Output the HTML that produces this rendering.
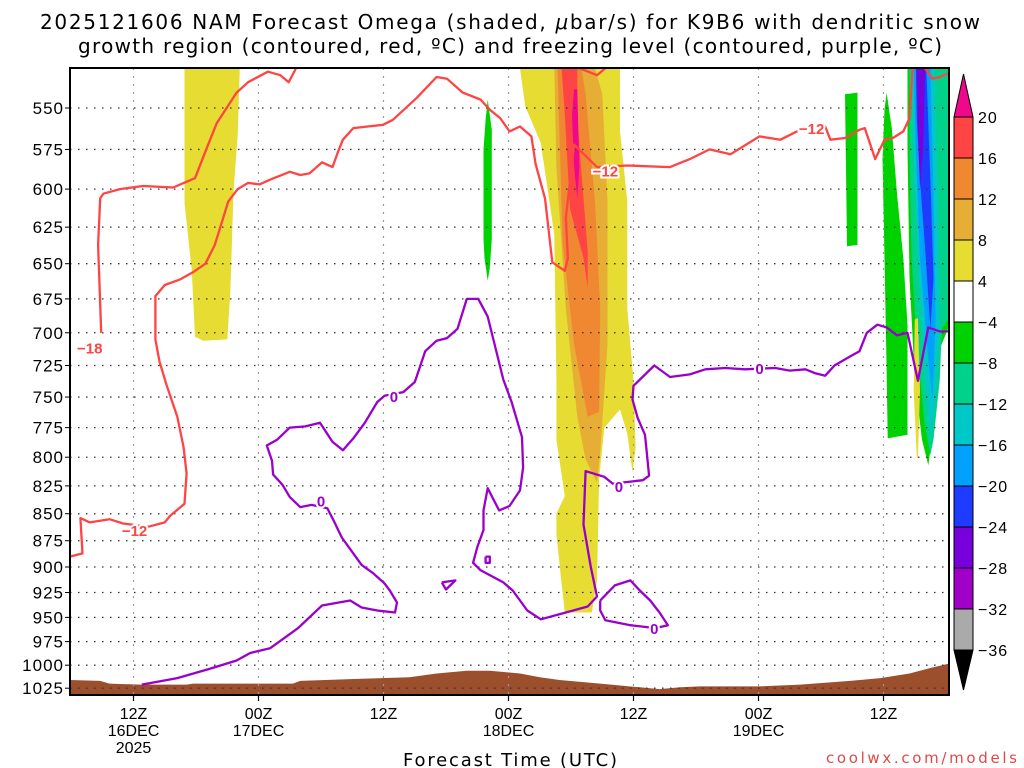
<!DOCTYPE html>
<html><head><meta charset="utf-8"><style>
body{margin:0;background:#fff;}
svg{display:block;font-family:"Liberation Sans",sans-serif;}
</style></head><body>
<svg id="chart" width="1024" height="768" viewBox="0 0 1024 768" xmlns="http://www.w3.org/2000/svg">
<text x="40" y="29" font-size="20" textLength="940" lengthAdjust="spacing" font-family="DejaVu Sans, sans-serif">2025121606 NAM Forecast Omega (shaded, <tspan font-style="italic">μ</tspan>bar/s) for K9B6 with dendritic snow</text>
<text x="78" y="53" font-size="20" textLength="864" lengthAdjust="spacing" font-family="DejaVu Sans, sans-serif">growth region (contoured, red, ºC) and freezing level (contoured, purple, ºC)</text>
<text x="403" y="766" font-size="18" textLength="214" lengthAdjust="spacing" font-family="DejaVu Sans, sans-serif">Forecast Time (UTC)</text>
<text x="826" y="763" font-size="15" textLength="191" lengthAdjust="spacing" fill="#e04848" font-family="DejaVu Sans, sans-serif">coolwx.com/models</text>
<g id="plot"></g>
</svg>
<script>
const pressureTicks=[550,575,600,625,650,675,700,725,750,775,800,825,850,875,900,925,950,975,1000,1025];
const timeTickHours=[6,18,30,42,54,66,78];
const timeTickLabels=[["12Z","16DEC","2025"],["00Z","17DEC"],["12Z"],["00Z","18DEC"],["12Z"],["00Z","19DEC"],["12Z"]];
const cbLevels=["20","16","12","8","4","−4","−8","−12","−16","−20","−24","−28","−32","−36"];
const cbColors=["#ff4444","#f08832","#e6ae34","#e6dc32","#ffffff","#00d200","#00d28c","#00c8c8","#00a0ff","#1e3cff","#7800dc","#a000c8","#aaaaaa"];
const surfacePressure=[[-0.1,1016],[2.8,1017],[3.7,1020],[6.6,1021],[11.1,1021],[11.7,1020],[21.3,1020],[22,1017],[26.8,1015],[32.5,1013],[35.1,1009],[38,1006],[40.2,1006],[43.1,1009],[45,1013],[46.9,1016],[50.8,1020],[54.6,1024],[56.5,1026],[58.5,1024],[60.4,1023],[66.1,1023],[70,1021],[74.8,1017],[77.7,1014],[80.5,1009],[82.5,1003],[84.4,998]];
const omegaYellowA=[[10.9,527],[16.2,527],[16,566],[15.6,602],[15.3,669],[15,705],[12.7,706],[11.9,703],[11.6,655],[10.9,609]];
const omegaYellowB=[[43.1,527],[43.6,549],[45.1,571],[46.4,630],[46.6,737],[46.6,785],[47.4,834],[46.6,850],[46.6,869],[47,907],[47.4,945],[50,945],[50.5,913],[50.7,819],[51.2,775],[52.7,760],[53.4,780],[53.9,813],[54.2,792],[54,737],[53.4,682],[53.4,608],[52.7,564],[52.7,527]];
const omegaGoldB=[[46.4,527],[46.6,586],[47.5,682],[48.6,766],[49.4,802],[50.5,822],[50.8,796],[51.5,709],[51.5,608],[51,542],[50.3,527]];
const omegaOrangeB=[[46.7,527],[47.2,636],[48.3,709],[49.6,766],[50.7,762],[50.8,682],[50.3,608],[49.4,542],[49,527]];
const omegaRedB=[[47.1,527],[47.4,554],[47.9,613],[49.2,646],[49.6,667],[49.6,641],[48.96,586],[48.6,554],[48.6,527]];
const omegaMagentaB=[[48.3,539],[48.6,539],[48.8,586],[48.6,606],[48.3,586],[48.1,554]];
const omegaYellowC=[[81,690],[81.3,689],[81.5,745],[81.3,801],[81.2,800],[80.9,745]];
const omegaGreenA=[[40,545],[40.4,563],[40.4,633],[40.2,653],[40,662],[39.7,646],[39.6,633],[39.6,575],[39.8,557]];
const omegaGreenB=[[74.3,542],[75.5,541],[75.5,637],[74.5,638]];
const omegaGreenC=[[78.3,541],[78.8,562],[79.3,603],[79.9,646],[80.3,694],[80.3,781],[78.4,784],[78.3,728],[78.1,646],[77.9,581],[78.1,551]];
const omegaGreenD=[[80.3,526],[84.2,526],[84.2,697],[83.4,712],[82.9,769],[82.3,807],[81.7,785],[81,736],[80.5,660],[80.3,575]];
const omegaTealD=[[80.5,526],[84.2,526],[84.2,690],[83.6,697],[83.4,736],[82.8,785],[82.5,798],[81.9,769],[81.1,697],[80.7,646],[80.5,575]];
const omegaCyanD=[[80.7,526],[82.9,526],[83.2,606],[83.4,697],[83,752],[82.5,785],[82,736],[81.3,646],[80.9,575]];
const omegaLtBlueD=[[80.9,526],[82.5,526],[82.8,606],[83,690],[82.7,752],[82.3,720],[81.5,646],[81.1,575]];
const omegaBlueD=[[81.1,526],[82.1,526],[82.5,594],[82.8,660],[82.5,697],[82,640],[81.5,594],[81.2,557]];
const omegaVioletD=[[81.2,526],[82,526],[81.8,575],[81.5,600],[81.3,563]];
const dgzMain=[[-0.1,890],[1.1,887],[0.9,854],[1.8,858],[3.7,855],[5,859],[7.4,862],[9,858],[9.5,852],[10.9,841],[11.1,814],[10.8,791],[10.2,766],[9.2,741],[8.5,722],[8.1,705],[8.1,673],[9,665],[10.5,661],[11.7,656],[12.9,650],[13.8,637],[14.6,619],[15.1,608],[16,600],[17,596],[18.1,597],[19.1,594],[21,589],[22,591],[22.9,590],[24.1,583],[25.1,586],[25.6,577],[26.1,569],[27.1,562],[29.95,560],[30.9,557],[33.2,544],[35.1,532],[36.1,533],[37.6,541],[39.3,545],[40.2,551],[41.2,556],[42.1,564],[43.1,561],[44.2,567],[44.6,584],[45.5,606],[46.2,649],[47.4,655],[47.7,646],[47.5,619],[48.3,572],[50.5,586],[53.4,585],[57.5,586],[59.4,581],[61.3,575],[63.3,578],[66.1,567],[68.1,569],[70,563],[72.4,561],[72.9,569],[74.3,568],[75.7,563],[76.2,562],[77.2,581],[78.1,569],[78.9,568],[79.9,564],[80.5,556],[80.8,526]];
const dgzUpper=[[2.9,700],[2.6,637],[2.8,606],[3.1,603],[4.7,600],[6.9,598],[9.8,599],[11.9,593],[13.1,573],[14,559],[15.9,541],[17,535],[18.9,529],[20.1,531],[20.9,535],[21.7,526]];
const dgzTop=[[48.8,527],[50.5,531],[51.5,526]];
const dgzTopRight=[[82,527],[82.7,533],[83.4,532],[84.2,530]];
const frzMain=[[6.8,1021],[10.2,1014],[13.3,1004],[15.9,995],[17.2,987],[19.1,982],[21.8,961],[24.1,938],[26.8,933],[27.9,940],[29.4,943],[31.1,945],[31.3,935],[30.6,923],[30.1,916],[29,906],[27.9,898],[27.1,887],[26,872],[25.2,856],[24.6,845],[23.1,842],[22,844],[21,835],[20.3,824],[19.4,815],[19.3,803],[18.8,790],[19.8,785],[21,775],[22.5,774],[23.9,771],[25.1,787],[26.1,794],[27.1,784],[28.2,771],[29.4,754],[30.1,749],[31.9,746],[33,738],[33.5,726],[34,714],[35.1,706],[36.1,704],[37.1,697],[38,675],[39.1,675],[40,688],[40.7,710],[41.5,736],[42.3,754],[43.3,783],[43.4,809],[43.1,829],[42.1,843],[41.1,847],[40,827],[39.6,847],[39.6,865],[39,881],[38.6,896],[39.3,903],[41.5,915],[42.4,923],[43.8,943],[45.1,952],[47.5,945],[49.6,939],[50.5,929],[49.9,900],[49.2,860],[49.4,812],[51.2,817],[52,823],[54.9,820],[55.5,816],[55.1,781],[54.4,767],[53.9,752],[54,741],[56,725],[57.5,734],[59.4,732],[60.9,728],[62.8,727],[64.7,728],[67.6,727],[69,729],[70.5,728],[71.4,731],[72.4,733],[73.3,725],[74.8,718],[75.7,714],[76.4,700],[77.4,694],[78.3,696],[79.3,702],[80.3,700],[81.3,737],[82.3,696],[83.4,699],[84.2,699]];
const frzLoopA=[[50.8,933],[52.2,918],[53.7,913],[54.6,923],[55.6,933],[56.5,945],[57.3,958],[56.1,961],[53.7,958],[51.3,953],[50.8,943],[50.8,933]];
const frzLoopB=[[35.6,915],[36.9,913],[36,922],[35.6,915]];
const frzLoopC=[[39.8,890],[40.2,890],[40.2,896],[39.8,896],[39.8,890]];
const dgzLabels=[[1.8,711,"−18"],[6.1,865,"−12"],[51.3,588,"−12"],[71.1,562,"−12"]];
const frzLabels=[[24,838,"0"],[31,749,"0"],[52.6,825,"0"],[66.1,727,"0"],[56,961,"0"]];

const NS="http://www.w3.org/2000/svg";
const L=70,R=949,T=68,B=695;
function xs(h){return 71+h*125/12;}
function ys(p){return 108+932*Math.log(p/550);}
const g=document.getElementById('plot');
function el(tag,attrs,parent){const e=document.createElementNS(NS,tag);for(const k in attrs)e.setAttribute(k,attrs[k]);(parent||g).appendChild(e);return e;}
function pts(arr){return arr.map(d=>xs(d[0]).toFixed(1)+","+ys(d[1]).toFixed(1)).join(" ");}

const defs=el('defs',{});
const cp=el('clipPath',{id:'clip'},defs);
el('rect',{x:L,y:T,width:R-L,height:B-T},cp);
const inner=el('g',{'clip-path':'url(#clip)'});

const shades=[[omegaYellowA,"#e6dc32","omega-shade-yellow-a"],[omegaYellowB,"#e6dc32","omega-shade-yellow-b"],[omegaGoldB,"#e6ae34","omega-shade-gold"],[omegaOrangeB,"#f08832","omega-shade-orange"],[omegaRedB,"#ff4444","omega-shade-red"],[omegaMagentaB,"#f0088c","omega-shade-magenta"],[omegaGreenA,"#00d200","omega-shade-green-a"],[omegaGreenB,"#00d200","omega-shade-green-b"],[omegaGreenC,"#00d200","omega-shade-green-c"],[omegaGreenD,"#00d200","omega-shade-green-d"],[omegaTealD,"#00d28c","omega-shade-teal"],[omegaCyanD,"#00c8c8","omega-shade-cyan"],[omegaLtBlueD,"#00a0ff","omega-shade-lightblue"],[omegaBlueD,"#1e3cff","omega-shade-blue"],[omegaVioletD,"#7800dc","omega-shade-violet"],[omegaYellowC,"#e6dc32","omega-shade-yellow-c"]];
shades.forEach(s=>{const e=el('polygon',{points:pts(s[0]),fill:s[1]},inner);

});

const gp=[[surfacePressure[0][0],1040]].concat(surfacePressure,[[surfacePressure[surfacePressure.length-1][0],1040]]);
const ground=el('polygon',{points:pts(gp),fill:'#9c4f2c'},inner);



pressureTicks.forEach(p=>{const e=el('line',{x1:L,x2:R,y1:ys(p),y2:ys(p),stroke:'#333','stroke-width':1.3,'stroke-dasharray':'1.5 6.5'},inner);

});
timeTickHours.forEach(h=>{const e=el('line',{x1:xs(h),x2:xs(h),y1:T,y2:B,stroke:'#999','stroke-width':1.2,'stroke-dasharray':'2 6'},inner);

});

[[dgzMain,'dgz-contour-main'],[dgzUpper,'dgz-contour-upper'],[dgzTop,'dgz-contour-top'],[dgzTopRight,'dgz-contour-top-right']].forEach(c=>{const e=el('polyline',{points:pts(c[0]),fill:'none',stroke:'#ff4444','stroke-width':2.3,'stroke-linejoin':'round'},inner);

});
[[frzMain,'freezing-level-main'],[frzLoopA,'freezing-level-loop-a'],[frzLoopB,'freezing-level-loop-b'],[frzLoopC,'freezing-level-loop-c']].forEach(c=>{const e=el('polyline',{points:pts(c[0]),fill:'none',stroke:'#9a00cc','stroke-width':2.3,'stroke-linejoin':'round'},inner);

});
dgzLabels.forEach(d=>{const t=el('text',{x:xs(d[0]),y:ys(d[1])+6,'font-size':15,'font-weight':'bold','text-anchor':'middle',fill:'#ff4444',stroke:'#fff','stroke-width':4,'paint-order':'stroke'},inner);t.textContent=d[2];

});
frzLabels.forEach(d=>{const t=el('text',{x:xs(d[0]),y:ys(d[1])+6,'font-size':15,'font-weight':'bold','text-anchor':'middle',fill:'#9a00cc',stroke:'#fff','stroke-width':4,'paint-order':'stroke'},inner);t.textContent=d[2];

});

const fr=el('rect',{x:L,y:T,width:R-L,height:B-T,fill:'none',stroke:'#000','stroke-width':2});



pressureTicks.forEach(p=>{const t=el('text',{x:64,y:ys(p)+6,'font-size':17,'text-anchor':'end','letter-spacing':1});t.textContent=p;


const tk=el('line',{x1:L-5,x2:L,y1:ys(p),y2:ys(p),stroke:'#000','stroke-width':1});

});
timeTickHours.forEach((h,i)=>{const tk=el('line',{x1:xs(h),x2:xs(h),y1:B,y2:B+6,stroke:'#000','stroke-width':1.2});


timeTickLabels[i].forEach((s,j)=>{const t=el('text',{x:xs(h),y:719+j*17,'font-size':16,'text-anchor':'middle'});t.textContent=s;

});});

const cx=954,cw=19,c0=117,cs=41;
const tri1=el('polygon',{points:`${cx},${c0} ${cx+cw},${c0} ${cx+cw/2},${c0-43}`,fill:'#f0088c',stroke:'#000','stroke-width':1});


cbColors.forEach((c,i)=>{const r=el('rect',{x:cx,y:c0+i*cs,width:cw,height:cs,fill:c,stroke:'#000','stroke-width':1});

});
const yb=c0+cbColors.length*cs;
const tri2=el('polygon',{points:`${cx},${yb} ${cx+cw},${yb} ${cx+cw/2},${yb+40}`,fill:'#000',stroke:'#000','stroke-width':1});


cbLevels.forEach((s,i)=>{const t=el('text',{x:978,y:c0+i*cs+6,'font-size':16,'letter-spacing':1});t.textContent=s;

});
</script>
</body></html>
